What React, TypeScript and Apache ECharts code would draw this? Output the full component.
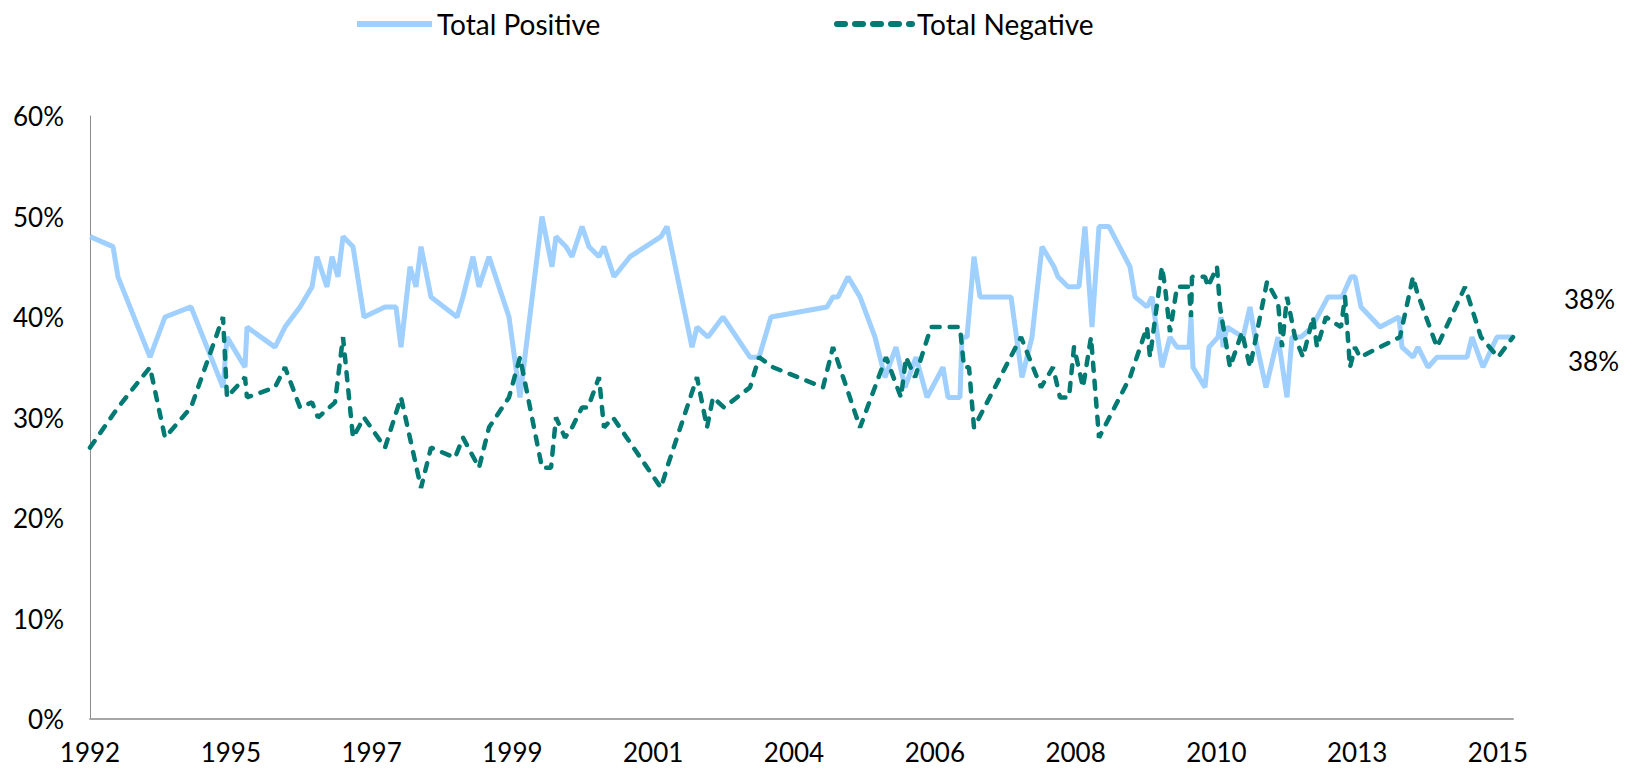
import React, { useEffect, useRef } from "react";
import * as echarts from "echarts";

// Tick labels along the (non-uniform) time axis, one per axis step
const tickLabels = ["1992", "1995", "1997", "1999", "2001", "2004", "2006", "2008", "2010", "2013", "2015"];
const AXIS_STEP = 140.8; // axis units between two labelled ticks
const AXIS_MAX = 1423;

// Total Positive: position along time axis, value (%)
const positiveT = [0, 23, 28, 60, 75, 101, 133, 137, 155, 157, 185, 195, 210, 222, 227, 237, 242, 248, 253, 263, 274, 295, 306, 311, 320, 326, 331, 341, 367, 373, 383, 389, 399, 419, 430, 452, 462, 466, 476, 482, 492, 499, 509, 514, 524, 540, 571, 577, 602, 607, 618, 633, 660, 669, 681, 737, 743, 748, 758, 770, 785, 795, 806, 815, 826, 837, 853, 858, 870, 872, 877, 884, 890, 921, 932, 942, 952, 964, 968, 978, 989, 995, 1002, 1009, 1019, 1040, 1045, 1057, 1062, 1072, 1080, 1087, 1099, 1101, 1103, 1115, 1119, 1128, 1131, 1133, 1137, 1153, 1160, 1165, 1176, 1188, 1197, 1202, 1211, 1222, 1238, 1252, 1261, 1265, 1271, 1290, 1309, 1312, 1323, 1328, 1338, 1347, 1377, 1382, 1393, 1407, 1423];
const positiveValues = [48, 47, 44, 36, 40, 41, 33, 38, 35, 39, 37, 39, 41, 43, 46, 43, 46, 44, 48, 47, 40, 41, 41, 37, 45, 43, 47, 42, 40, 42, 46, 43, 46, 40, 32, 50, 45, 48, 47, 46, 49, 47, 46, 47, 44, 46, 48, 49, 37, 39, 38, 40, 36, 36, 40, 41, 42, 42, 44, 42, 38, 34, 37, 33, 36, 32, 35, 32, 32, 38, 38, 46, 42, 42, 34, 38, 47, 45, 44, 43, 43, 49, 39, 49, 49, 45, 42, 41, 42, 35, 38, 37, 37, 40, 35, 33, 37, 38, 40, 37, 39, 38, 41, 38, 33, 38, 32, 38, 38, 39, 42, 42, 44, 44, 41, 39, 40, 37, 36, 37, 35, 36, 36, 38, 35, 38, 38];

// Total Negative
const negativeT = [0, 28, 60, 75, 101, 133, 137, 155, 157, 185, 195, 210, 222, 228, 245, 253, 255, 263, 274, 295, 311, 331, 341, 365, 373, 389, 399, 419, 430, 452, 461, 466, 475, 482, 492, 498, 509, 514, 523, 571, 577, 607, 617, 623, 634, 660, 669, 683, 733, 743, 770, 796, 811, 816, 825, 841, 870, 874, 879, 884, 931, 951, 963, 970, 979, 984, 993, 1001, 1009, 1040, 1057, 1060, 1072, 1075, 1080, 1087, 1099, 1101, 1102, 1115, 1118, 1127, 1130, 1140, 1152, 1160, 1177, 1188, 1192, 1197, 1205, 1213, 1223, 1227, 1236, 1243, 1251, 1255, 1260, 1265, 1270, 1310, 1323, 1327, 1347, 1375, 1391, 1408, 1423];
const negativeValues = [27, 31, 35, 28, 31, 40, 32, 34, 32, 33, 35, 31, 31.5, 30, 31.5, 38, 36, 28, 30, 27, 32, 23, 27, 26, 28, 25, 29, 32, 36, 25, 25, 30, 28, 29, 31, 31, 34, 29, 30, 23, 25, 34, 29, 32, 31, 33, 36, 35, 33, 37, 29, 36, 32, 36, 34, 39, 39, 35, 35, 29, 38, 33, 35, 32, 32, 37, 33, 38, 28, 34, 39, 36, 45, 43, 38.5, 43, 43, 40, 44, 44, 43, 45, 41, 35, 38.5, 35, 43.5, 41.5, 37, 42, 38, 36, 40, 37, 40, 39.5, 39, 42, 35, 37, 36, 38, 44, 42.5, 37, 43, 38, 36, 38];

const FONT = "Lato";
const POS_COLOR = "#9FD0FF";
const NEG_COLOR = "#007A73";

export default function App() {
  const ref = useRef<HTMLDivElement>(null);

  useEffect(() => {
    if (!ref.current) return;
    const chart = echarts.init(ref.current, null, { renderer: "svg" });
    const posData = positiveT.map((t, i) => [t, positiveValues[i]]);
    const negData = negativeT.map((t, i) => [t, negativeValues[i]]);
    const textStyle = { fontFamily: FONT, fontSize: 26, color: "#000" };

    chart.setOption({
      animation: false,
      backgroundColor: "#fff",
      legend: [
        {
          data: ["Total Positive"],
          left: 349,
          top: 5,
          itemWidth: 75,
          itemHeight: 14,
          itemGap: 6,
          itemStyle: { opacity: 0 },
          lineStyle: { width: 6 },
          textStyle: { ...textStyle, fontSize: 28 },
        },
        {
          data: ["Total Negative"],
          left: 829,
          top: 5,
          itemWidth: 75,
          itemHeight: 14,
          itemStyle: { opacity: 0 },
          lineStyle: { width: 6 },
          textStyle: { ...textStyle, fontSize: 28 },
        },
      ],
      grid: { left: 90, right: 121, top: 116, bottom: 55, containLabel: false },
      xAxis: {
        type: "value",
        min: 0,
        max: AXIS_MAX,
        interval: AXIS_STEP,
        axisLine: { show: true, lineStyle: { color: "#A6A6A6", width: 2 } },
        axisTick: { show: false },
        splitLine: { show: false },
        axisLabel: {
          ...textStyle,
          margin: 20,
          showMaxLabel: false,
          formatter: (v: number) => {
            const i = Math.round(v / AXIS_STEP);
            return Math.abs(v - i * AXIS_STEP) < 1 ? tickLabels[i] ?? "" : "";
          },
        },
      },
      yAxis: {
        type: "value",
        min: 0,
        max: 60,
        interval: 10,
        axisLine: { show: true, lineStyle: { color: "#8C8C8C", width: 1 } },
        axisTick: { show: false },
        splitLine: { show: false },
        axisLabel: { ...textStyle, margin: 26, formatter: "{value}%" },
      },
      series: [
        {
          name: "Total Positive",
          type: "line",
          data: posData,
          symbol: "none",
          lineStyle: { color: POS_COLOR, width: 5 },
          itemStyle: { color: POS_COLOR },
          endLabel: {
            show: true,
            ...textStyle,
            offset: [43, -38],
            formatter: (p: any) => `${Math.round(p.value[1])}%`,
          },
        },
        {
          name: "Total Negative",
          type: "line",
          data: negData,
          symbol: "none",
          lineStyle: { color: NEG_COLOR, width: 4.5, type: [8, 10], cap: "round" },
          itemStyle: { color: NEG_COLOR },
          endLabel: {
            show: true,
            ...textStyle,
            offset: [47, 24],
            formatter: (p: any) => `${Math.round(p.value[1])}%`,
          },
        },
      ],
    });
    return () => chart.dispose();
  }, []);

  return (
    <div
      ref={ref}
      style={{ position: "fixed", left: 0, top: 0, width: 1634, height: 774, background: "#fff" }}
    />
  );
}
